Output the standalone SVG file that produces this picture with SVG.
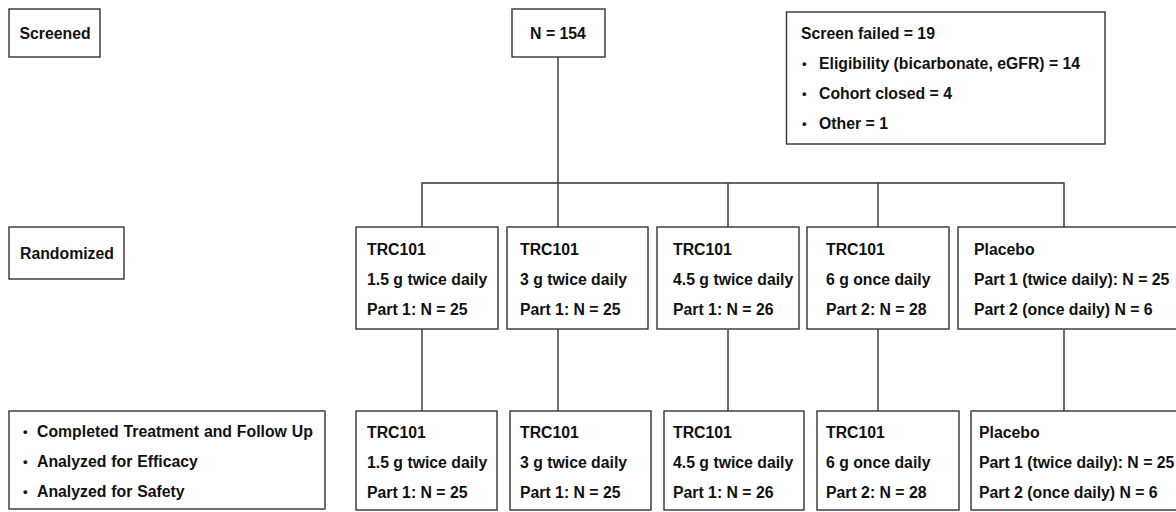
<svg xmlns="http://www.w3.org/2000/svg" width="1176" height="512" viewBox="0 0 1176 512">
<style>
.box{fill:#fff;stroke:#333;stroke-width:1.4}
.ln{fill:none;stroke:#333;stroke-width:1.4}
text{font-family:"Liberation Sans",Arial,sans-serif;font-weight:bold;font-size:15.8px;fill:#111}
.b{font-size:13px}
</style>
<rect width="1176" height="512" fill="#fff"/>
<g id="connectors">
<line class="ln" x1="558" y1="57" x2="558" y2="227"/>
<polyline class="ln" points="422,227 422,183 1064,183 1064,227"/>
<line class="ln" x1="728" y1="183" x2="728" y2="227"/>
<line class="ln" x1="878" y1="183" x2="878" y2="227"/>
<line class="ln" x1="422" y1="329" x2="422" y2="411"/>
<line class="ln" x1="558" y1="329" x2="558" y2="411"/>
<line class="ln" x1="728" y1="329" x2="728" y2="411"/>
<line class="ln" x1="878" y1="329" x2="878" y2="411"/>
<line class="ln" x1="1064" y1="329" x2="1064" y2="411"/>
</g>
<g id="screened"><rect class="box" x="9" y="9" width="91" height="48"/><text x="19.5" y="39">Screened</text></g>
<g id="n154"><rect class="box" x="512" y="9" width="93" height="48"/><text x="558" y="39" text-anchor="middle">N = 154</text></g>
<g id="screenfailed"><rect class="box" x="786.5" y="12" width="318.5" height="132"/>
<text x="801" y="39">Screen failed = 19</text>
<text class="b" x="802" y="68">•</text><text x="819" y="69">Eligibility (bicarbonate, eGFR) = 14</text>
<text class="b" x="802" y="98">•</text><text x="819" y="99">Cohort closed = 4</text>
<text class="b" x="802" y="128">•</text><text x="819" y="129">Other = 1</text></g>
<g id="randomized"><rect class="box" x="9" y="227" width="115" height="52"/><text x="20" y="259">Randomized</text></g>
<g id="r1"><rect class="box" x="356" y="227" width="142" height="102"/><text x="367" y="255">TRC101</text><text x="367" y="285">1.5 g twice daily</text><text x="367" y="315">Part 1: N = 25</text></g>
<g id="r2"><rect class="box" x="507" y="227" width="141" height="102"/><text x="520" y="255">TRC101</text><text x="520" y="285">3 g twice daily</text><text x="520" y="315">Part 1: N = 25</text></g>
<g id="r3"><rect class="box" x="657" y="227" width="142" height="102"/><text x="673" y="255">TRC101</text><text x="673" y="285">4.5 g twice daily</text><text x="673" y="315">Part 1: N = 26</text></g>
<g id="r4"><rect class="box" x="807" y="227" width="142" height="102"/><text x="826" y="255">TRC101</text><text x="826" y="285">6 g once daily</text><text x="826" y="315">Part 2: N = 28</text></g>
<g id="r5"><rect class="box" x="958" y="227" width="230" height="102"/><text x="974" y="255">Placebo</text><text x="974" y="285">Part 1 (twice daily): N = 25</text><text x="974" y="315">Part 2 (once daily) N = 6</text></g>
<g id="outcomes"><rect class="box" x="9" y="411" width="316" height="98"/>
<text class="b" x="23" y="436">•</text><text x="37" y="437" word-spacing="0.5">Completed Treatment and Follow Up</text>
<text class="b" x="23" y="466">•</text><text x="37" y="467" word-spacing="0.5">Analyzed for Efficacy</text>
<text class="b" x="23" y="496">•</text><text x="37" y="497" word-spacing="0.5">Analyzed for Safety</text></g>
<g id="c1"><rect class="box" x="356" y="411" width="141" height="99"/><text x="367" y="438">TRC101</text><text x="367" y="468">1.5 g twice daily</text><text x="367" y="498">Part 1: N = 25</text></g>
<g id="c2"><rect class="box" x="510" y="411" width="141" height="99"/><text x="520" y="438">TRC101</text><text x="520" y="468">3 g twice daily</text><text x="520" y="498">Part 1: N = 25</text></g>
<g id="c3"><rect class="box" x="664" y="411" width="140" height="99"/><text x="673" y="438">TRC101</text><text x="673" y="468">4.5 g twice daily</text><text x="673" y="498">Part 1: N = 26</text></g>
<g id="c4"><rect class="box" x="817" y="411" width="142" height="99"/><text x="826" y="438">TRC101</text><text x="826" y="468">6 g once daily</text><text x="826" y="498">Part 2: N = 28</text></g>
<g id="c5"><rect class="box" x="971" y="411" width="220" height="99"/><text x="979" y="438">Placebo</text><text x="979" y="468">Part 1 (twice daily): N = 25</text><text x="979" y="498">Part 2 (once daily) N = 6</text></g>
</svg>
